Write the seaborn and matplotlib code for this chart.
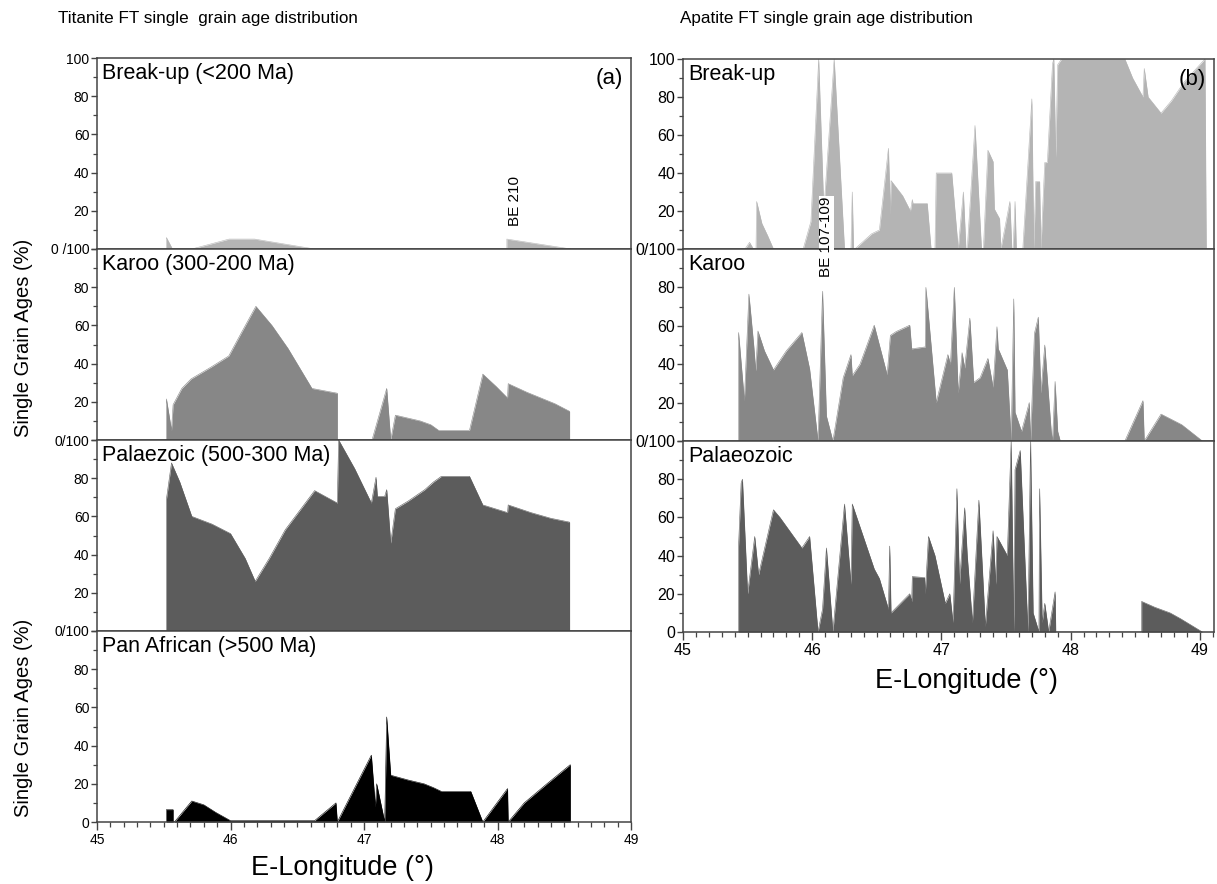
import numpy as np
import pandas as pd
import matplotlib
matplotlib.use("Agg")
import matplotlib.pyplot as plt
import seaborn as sns
from matplotlib.ticker import FixedLocator, MultipleLocator

# ---------------- data (longitude °E, % of single grain ages) ----------------
# Titanite
ti_breakup_x = [45.52, 45.52, 45.565, 45.71, 45.99, 46.18, 46.63, 48.07, 48.07, 48.55]
ti_breakup_y = [0, 6, 0, 0, 5.2, 5.2, 0, 0, 5.2, 0]

ti_karoo_x = [45.52, 45.52, 45.558, 45.57, 45.635, 45.705, 45.85, 45.987, 46.08, 46.19,
              46.31, 46.43, 46.61, 46.80, 46.80, 47.06, 47.17, 47.20, 47.235, 47.42,
              47.50, 47.56, 47.79, 47.89, 47.99, 48.075, 48.08, 48.22, 48.43, 48.54, 48.54]
ti_karoo_y = [0, 21.5, 5, 18.5, 27, 32, 38, 44, 56, 70,
              60, 48, 27, 24.5, 0, 0, 27, 0, 13, 10,
              8, 5, 5, 34.5, 28, 22, 29.5, 25, 19, 15, 0]

ti_palaeo_x = [45.52, 45.52, 45.558, 45.62, 45.71, 45.86, 46.00, 46.11, 46.185, 46.29,
               46.41, 46.63, 46.80, 46.81, 46.93, 47.055, 47.09, 47.10, 47.155, 47.17,
               47.20, 47.235, 47.33, 47.455, 47.52, 47.58, 47.79, 47.89, 48.075, 48.08,
               48.25, 48.40, 48.54, 48.54]
ti_palaeo_y = [0, 69, 88, 78, 60, 56, 51, 38, 26, 38,
               53, 73.5, 67, 100, 85, 67, 80.5, 70.5, 70.5, 74,
               46, 64, 68, 74, 78, 81, 81, 66, 62, 66,
               62, 59, 57, 0]

ti_panaf_x = [45.52, 45.52, 45.57, 45.57, 45.58, 45.71, 45.80, 45.89, 46.0, 46.63,
              46.79, 46.80, 47.055, 47.085, 47.095, 47.155, 47.17, 47.20, 47.33, 47.45,
              47.52, 47.58, 47.80, 47.89, 48.075, 48.08, 48.20, 48.37, 48.545, 48.545]
ti_panaf_y = [0, 6.5, 6.5, 0, 0, 11, 9, 5, 0.7, 0.7,
              10, 0, 35, 8, 20, 0, 55, 24.5, 22, 20,
              18, 16, 16, 0, 17.5, 0, 10, 20, 30, 0]

# Apatite
ap_breakup_x = [45.48, 45.515, 45.545, 45.565, 45.57, 45.61, 45.655, 45.70, 45.93, 45.99,
                46.05, 46.09, 46.17, 46.25, 46.30, 46.31, 46.32, 46.33, 46.46, 46.52,
                46.59, 46.605, 46.61, 46.70, 46.76, 46.775, 46.78, 46.89, 46.92, 46.95,
                46.96, 47.08, 47.13, 47.17, 47.19, 47.20, 47.26, 47.31, 47.325, 47.36,
                47.40, 47.41, 47.45, 47.46, 47.53, 47.545, 47.555, 47.57, 47.58, 47.63,
                47.70, 47.715, 47.73, 47.76, 47.77, 47.80, 47.82, 47.86, 47.87, 47.885,
                47.90, 47.93, 48.42, 48.48, 48.56, 48.57, 48.60, 48.70, 48.78, 48.88,
                49.04, 49.05]
ap_breakup_y = [0, 3.5, 0, 0, 25, 13.5, 7, 0, 0, 14.5,
                100, 20, 100, 0, 0, 30, 0, 0, 8, 10,
                53, 18, 36, 28, 20, 26, 24, 24, 0, 0,
                40, 40, 0, 30, 0, 0, 65, 0, 0, 52,
                46, 21, 16, 0, 25, 0, 0, 25, 0, 0,
                79, 0, 35.5, 35.5, 0, 45.5, 45.5, 97.5, 100, 48,
                97, 100, 100, 90, 80, 95, 80, 71.5, 78, 88,
                100, 0]

ap_karoo_x = [45.43, 45.43, 45.475, 45.51, 45.547, 45.563, 45.58, 45.63, 45.70, 45.80,
              45.92, 45.98, 46.045, 46.08, 46.11, 46.16, 46.24, 46.30, 46.31, 46.37,
              46.48, 46.58, 46.605, 46.65, 46.755, 46.77, 46.875, 46.88, 46.96, 47.05,
              47.07, 47.10, 47.13, 47.16, 47.18, 47.22, 47.25, 47.30, 47.36, 47.40,
              47.43, 47.44, 47.51, 47.54, 47.56, 47.57, 47.62, 47.68, 47.69, 47.72,
              47.75, 47.77, 47.80, 47.85, 47.86, 47.88, 47.90, 47.92, 48.42, 48.56,
              48.57, 48.70, 48.86, 49.02]
ap_karoo_y = [0, 56.5, 21, 76.5, 50, 36.5, 57.3, 47, 37, 47,
              56.5, 37.5, 0, 78, 13, 0, 33, 45, 34, 40,
              60.3, 34.5, 55, 57, 60.3, 48, 49, 80, 20, 45,
              40, 80, 25, 46, 38, 64, 30.5, 33, 43, 28,
              59.5, 48, 37, 0, 74, 15, 5, 20, 0, 56,
              64.5, 25, 50, 5, 0, 31, 5, 0, 0, 21,
              0, 14, 8.5, 0]

ap_palaeo_x = [45.43, 45.43, 45.45, 45.46, 45.50, 45.555, 45.585, 45.70, 45.75, 45.92,
               45.98, 46.045, 46.08, 46.11, 46.16, 46.25, 46.30, 46.31, 46.48, 46.52,
               46.59, 46.60, 46.61, 46.755, 46.77, 46.775, 46.87, 46.875, 46.90, 46.95,
               47.03, 47.065, 47.09, 47.12, 47.14, 47.18, 47.20, 47.24, 47.29, 47.34,
               47.40, 47.42, 47.43, 47.51, 47.54, 47.56, 47.57, 47.61, 47.67, 47.69,
               47.71, 47.755, 47.76, 47.78, 47.80, 47.83, 47.88, 47.885, 48.55, 48.55,
               48.65, 48.77, 48.85, 49.02]
ap_palaeo_y = [0, 45, 78, 80, 20, 50, 30, 64, 60, 44,
               50, 0, 12, 44, 0, 67, 25, 67, 33, 28,
               12, 45, 10, 20, 16, 29, 28.5, 20, 50, 40,
               15, 20, 5, 75, 25, 65, 40, 5, 69, 3,
               53, 25, 50, 40, 100, 0, 85, 95, 0, 100,
               10, 0, 75, 5, 15, 0, 21, 0, 0, 16,
               13, 10, 7, 0]

ytick_vals = [0, 20, 40, 60, 80, 100]

C_BREAK = "#b4b4b4"
C_KAROO = "#878787"
C_PALAEO = "#5c5c5c"
C_PANAF = "#000000"

# ---------------- figure ----------------
sns.set_theme(style="ticks")
plt.rcParams["font.family"] = ["Liberation Sans", "DejaVu Sans"]
plt.rcParams["axes.edgecolor"] = "#444444"
plt.rcParams["axes.linewidth"] = 1.1
plt.rcParams["text.color"] = "black"
plt.rcParams["xtick.labelcolor"] = "black"
plt.rcParams["ytick.labelcolor"] = "black"

W, H = 1217, 884
fig = plt.figure(figsize=(W / 100, H / 100), dpi=100)


def rect(x0, x1, y0, y1):
    return [x0 / W, 1 - y1 / H, (x1 - x0) / W, (y1 - y0) / H]


NARROW = ["Liberation Sans Narrow", "Liberation Sans", "DejaVu Sans"]


def panel(r, xs, ys, color, label, xlim, top, bottom_label, last, small):
    ax = fig.add_axes(r)
    df = pd.DataFrame({"lon": xs, "pct": ys})
    ax.fill_between(df["lon"], df["pct"], 0, color=color, lw=0, zorder=2)
    sns.lineplot(data=df, x="lon", y="pct", estimator=None, sort=False,
                 color=color, lw=0.4, ax=ax, zorder=2)
    ax.set_xlim(*xlim)
    ax.set_ylim(0, 100)
    labels = [bottom_label, "20", "40", "60", "80", "100" if top else ""]
    ax.set_yticks(ytick_vals, labels)
    ax.yaxis.set_minor_locator(FixedLocator([10, 30, 50, 70, 90]))
    fam = NARROW if small else ["Liberation Sans", "DejaVu Sans"]
    fs = 10 if small else 11.5
    for t in ax.get_yticklabels():
        t.set_family(fam)
        t.set_fontsize(fs)
        t.set_color("black")
    ax.tick_params(axis="y", which="major", direction="out", length=4, width=1,
                   color="#444444", pad=1.5)
    ax.tick_params(axis="y", which="minor", direction="out", length=3, width=0.9,
                   color="#444444")
    ax.set_xlabel("")
    ax.set_ylabel("")
    if last:
        ax.set_xticks([45, 46, 47, 48, 49])
        ax.xaxis.set_minor_locator(MultipleLocator(0.1))
        ax.tick_params(axis="x", which="major", direction="out", length=6, width=1,
                       color="#444444", pad=2)
        ax.tick_params(axis="x", which="minor", direction="out", length=3.5, width=0.9,
                       color="#444444")
        for t in ax.get_xticklabels():
            t.set_family(fam)
            t.set_fontsize(fs)
            t.set_color("black")
    else:
        ax.tick_params(axis="x", which="both", bottom=False, labelbottom=False)
    ax.text(0.01, 0.975, label, transform=ax.transAxes, ha="left", va="top",
            fontsize=15.5, color="black", zorder=5)
    for s in ax.spines.values():
        s.set_visible(True)
        s.set_color("#444444")
    return ax


LX = (45, 49)
RX = (45, 49.11)

a1 = panel(rect(97, 631, 58, 249), ti_breakup_x, ti_breakup_y, C_BREAK,
           "Break-up (<200 Ma)", LX, True, "0 /100", False, True)
a2 = panel(rect(97, 631, 249, 440), ti_karoo_x, ti_karoo_y, C_KAROO,
           "Karoo (300-200 Ma)", LX, False, "0/100", False, True)
a3 = panel(rect(97, 631, 440, 631), ti_palaeo_x, ti_palaeo_y, C_PALAEO,
           "Palaezoic (500-300 Ma)", LX, False, "0/100", False, True)
a4 = panel(rect(97, 631, 631, 822), ti_panaf_x, ti_panaf_y, C_PANAF,
           "Pan African (>500 Ma)", LX, False, "0", True, True)

b1 = panel(rect(683, 1214, 59, 249), ap_breakup_x, ap_breakup_y, C_BREAK,
           "Break-up", RX, True, "0/100", False, False)
b2 = panel(rect(683, 1214, 249, 441), ap_karoo_x, ap_karoo_y, C_KAROO,
           "Karoo", RX, False, "0/100", False, False)
b3 = panel(rect(683, 1214, 441, 632), ap_palaeo_x, ap_palaeo_y, C_PALAEO,
           "Palaeozoic", RX, False, "0", True, False)

a1.text(0.985, 0.95, "(a)", transform=a1.transAxes, ha="right", va="top", fontsize=16)
b1.text(0.985, 0.95, "(b)", transform=b1.transAxes, ha="right", va="top", fontsize=16)

a1.text(48.13, 12, "BE 210", rotation=90, ha="center", va="bottom", fontsize=11)
fig.text(826.5 / W, 1 - 237 / H, "BE 107-109", rotation=90, ha="center", va="center",
         fontsize=11, zorder=10,
         bbox=dict(facecolor="white", edgecolor="none", pad=0.6))

fig.text(58 / W, 1 - 18 / H, "Titanite FT single  grain age distribution",
         ha="left", va="center", fontsize=12.3)
fig.text(680 / W, 1 - 18 / H, "Apatite FT single grain age distribution",
         ha="left", va="center", fontsize=12.3)

fig.text(24 / W, 1 - 338 / H, "Single Grain Ages (%)", rotation=90,
         ha="center", va="center", fontsize=14.5)
fig.text(24 / W, 1 - 718 / H, "Single Grain Ages (%)", rotation=90,
         ha="center", va="center", fontsize=14.5)

fig.text(342 / W, 1 - 868 / H, "E-Longitude (°)", ha="center", va="center", fontsize=19.5)
fig.text(966 / W, 1 - 681 / H, "E-Longitude (°)", ha="center", va="center", fontsize=19.5)

fig.savefig("out.png", dpi=100, facecolor="white")
